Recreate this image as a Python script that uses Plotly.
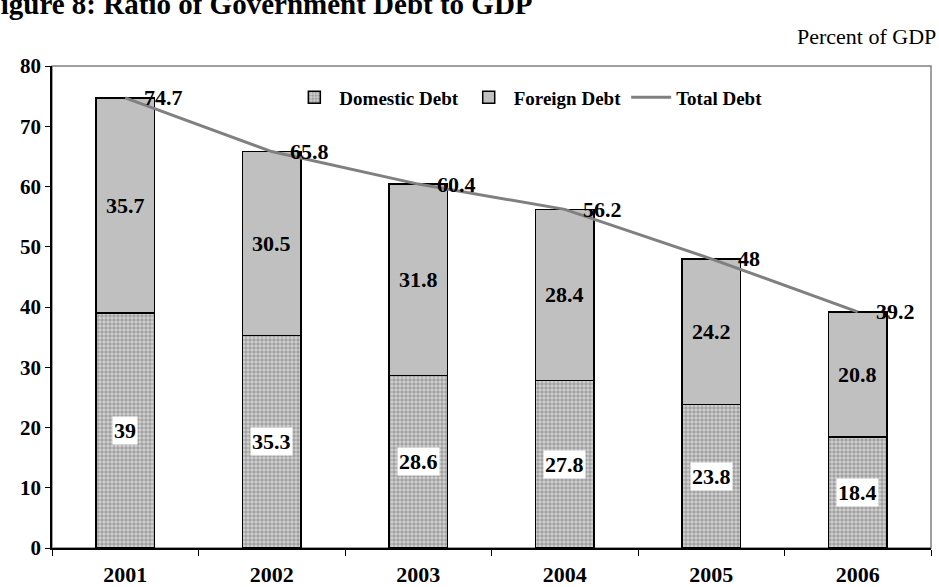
import plotly.graph_objects as go

years = ["2001", "2002", "2003", "2004", "2005", "2006"]
domestic = [39, 35.3, 28.6, 27.8, 23.8, 18.4]
foreign = [35.7, 30.5, 31.8, 28.4, 24.2, 20.8]
total = [74.7, 65.8, 60.4, 56.2, 48, 39.2]
y_ticks = [0, 10, 20, 30, 40, 50, 60, 70, 80]

FONT = "Liberation Serif, Times New Roman, serif"
LBL = dict(family=FONT, size=22, color="black", weight="bold")

fig = go.Figure()
fig.add_trace(go.Bar(
    x=years, y=domestic, name="Domestic Debt",
    marker=dict(color="#c8c8c8", line=dict(color="black", width=1.5),
                pattern=dict(shape=".", size=4, solidity=0.6,
                             fgcolor="#6e6e6e", bgcolor="#d4d4d4")),
    width=0.4,
))
fig.add_trace(go.Bar(
    x=years, y=foreign, name="Foreign Debt",
    marker=dict(color="#c0c0c0", line=dict(color="black", width=1.5)),
    width=0.4,
))
fig.add_trace(go.Scatter(
    x=years, y=total, name="Total Debt", mode="lines",
    line=dict(color="#808080", width=3),
))

annotations = []
for i, (d, f, t) in enumerate(zip(domestic, foreign, total)):
    annotations.append(dict(x=i, y=d / 2, text=f"{d:g}", showarrow=False,
                            bgcolor="white", borderpad=1, font=LBL))
    annotations.append(dict(x=i, y=d + f / 2, text=f"{f:g}", showarrow=False,
                            font=LBL))
    annotations.append(dict(x=i, y=t, text=f"{t:g}", showarrow=False,
                            xanchor="center", yanchor="middle", xshift=38,
                            font=LBL))

annotations.append(dict(xref="paper", yref="paper", x=1.0, y=1.0, yshift=30,
                        xanchor="right", yanchor="middle", xshift=7,
                        text="Percent of GDP", showarrow=False,
                        font=dict(family=FONT, size=22, color="black")))
annotations.append(dict(xref="paper", yref="paper", x=0, y=1.0, xshift=-71,
                        yshift=44, xanchor="left", yanchor="bottom",
                        text="Figure 8: Ratio of Government Debt to GDP", showarrow=False,
                        font=dict(family=FONT, size=29, color="black", weight="bold")))

fig.update_layout(
    width=939, height=587,
    margin=dict(l=52, r=8, t=66, b=39),
    barmode="stack",
    plot_bgcolor="white", paper_bgcolor="white",
    showlegend=True,
    legend=dict(orientation="h", x=0.27, y=0.935, xanchor="left", yanchor="middle",
                font=dict(family=FONT, size=19, color="black", weight="bold"),
                bgcolor="rgba(0,0,0,0)", traceorder="normal", itemwidth=40),
    annotations=annotations,
    shapes=[dict(type="rect", xref="paper", yref="paper", x0=0, x1=1, y0=0, y1=1,
                 line=dict(color="#808080", width=1.5), layer="below")],
    xaxis=dict(type="category", range=[-0.5, 5.5], showline=True, linecolor="black",
               linewidth=1.5, ticks="outside", tickson="boundaries", ticklen=6,
               tickcolor="black", showgrid=False, ticklabelstandoff=6, automargin=False,
               tickfont=dict(family=FONT, size=22, color="black", weight="bold")),
    yaxis=dict(range=[0, 80], tickvals=y_ticks, showline=True, linecolor="black",
               linewidth=1.5, ticks="outside", ticklen=5, tickcolor="black",
               showgrid=False, zeroline=False, automargin=False,
               tickfont=dict(family=FONT, size=21, color="black", weight="bold")),
)

fig.write_html("out.html")
